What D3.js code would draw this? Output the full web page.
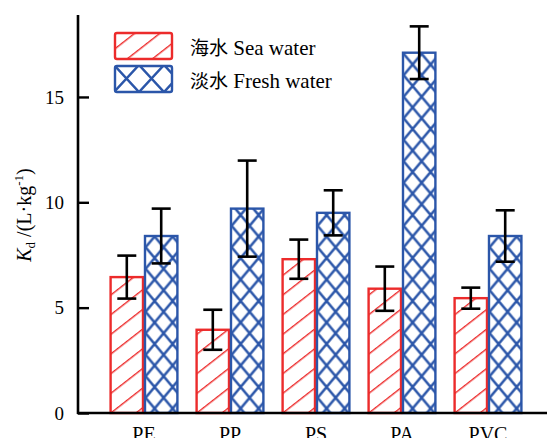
<!DOCTYPE html>
<html>
<head>
<meta charset="utf-8">
<script src="https://cdn.jsdelivr.net/npm/d3@7"></script>
<style>
body{margin:0;background:#fff;}
text{font-family:"Liberation Serif","Times New Roman",serif;fill:#000;}
</style>
</head>
<body>
<div id="chart"></div>
<script>
// data
var categories=["PE","PP","PS","PA","PVC"];
var seaValues=[6.45,3.95,7.3,5.9,5.45];
var seaErr=[1.02,0.95,0.93,1.05,0.5];
var freshValues=[8.4,9.7,9.5,17.1,8.4];
var freshErr=[1.3,2.28,1.07,1.25,1.22];
var yTicks=[0,5,10,15];
var seriesCn=["海水","淡水"];
var seriesEn=["Sea water","Fresh water"];

var W=547,H=438;
var red="#ec2b2b",blue="#2b56a9";

var svg=d3.select("#chart").append("svg").attr("width",W).attr("height",H);
var defs=svg.append("defs");

// hatch patterns
defs.append("pattern").attr("id","hatch").attr("patternUnits","userSpaceOnUse")
	.attr("width",15.5).attr("height",15.5).attr("patternTransform","rotate(52)")
	.append("line").attr("x1",0).attr("y1",-1).attr("x2",0).attr("y2",17)
	.attr("stroke",red).attr("stroke-width",2.8);
var cp=defs.append("pattern").attr("id","cross").attr("patternUnits","userSpaceOnUse")
	.attr("width",18).attr("height",21.5).attr("x",9);
cp.append("path").attr("d","M0,0L18,21.5M18,0L0,21.5").attr("stroke",blue).attr("stroke-width",2.5).attr("fill","none");
var cpl=defs.append("pattern").attr("id","crossLeg").attr("patternUnits","userSpaceOnUse")
	.attr("width",25).attr("height",27).attr("x",114).attr("y",65);
cpl.append("path").attr("d","M0,0L25,27M25,0L0,27").attr("stroke",blue).attr("stroke-width",2.5).attr("fill","none");

var x0=78,y0=413;
var y=d3.scaleLinear().domain([0,19]).range([y0,y0-19*21.07]);
var x=d3.scaleBand().domain(categories).range([101,531]).paddingInner(0.2).paddingOuter(0.1);
var xs=d3.scaleBand().domain(["sea","fresh"]).range([0,x.bandwidth()]);

// bars
var groups=svg.selectAll("g.grp").data(categories).enter().append("g")
	.attr("transform",function(d){return "translate("+x(d)+",0)";});
groups.append("rect")
	.attr("x",xs("sea")+1).attr("width",xs.bandwidth()-2)
	.attr("y",function(d,i){return y(seaValues[i]);})
	.attr("height",function(d,i){return y0-y(seaValues[i]);})
	.attr("fill","url(#hatch)").attr("stroke",red).attr("stroke-width",2.4);
groups.append("rect")
	.attr("x",xs("fresh")+1).attr("width",xs.bandwidth()-2)
	.attr("y",function(d,i){return y(freshValues[i]);})
	.attr("height",function(d,i){return y0-y(freshValues[i]);})
	.attr("fill","url(#cross)").attr("stroke",blue).attr("stroke-width",2.4);

// error bars
function errBars(key,vals,errs){
	var cx=xs(key)+xs.bandwidth()/2;
	var g=groups.append("g").attr("stroke","#000").attr("stroke-width",2.6);
	g.append("line").attr("x1",cx).attr("x2",cx)
		.attr("y1",function(d,i){return y(vals[i]+errs[i]);})
		.attr("y2",function(d,i){return y(vals[i]-errs[i]);});
	[1,-1].forEach(function(s){
		g.append("line").attr("x1",cx-9.5).attr("x2",cx+9.5)
			.attr("y1",function(d,i){return y(vals[i]+s*errs[i]);})
			.attr("y2",function(d,i){return y(vals[i]+s*errs[i]);});
	});
}
errBars("sea",seaValues,seaErr);
errBars("fresh",freshValues,freshErr);

// axes
var ya=svg.append("g").attr("transform","translate("+x0+",0)")
	.call(d3.axisRight(y).tickValues(yTicks).tickSize(11).tickFormat(d3.format("d")));
ya.select(".domain").remove();
ya.selectAll("line").attr("stroke","#000").attr("stroke-width",2.4);
ya.selectAll("text").attr("x",-14).attr("text-anchor","end").attr("font-size","19px")
	.attr("font-family","Liberation Serif");
svg.append("line").attr("x1",x0).attr("x2",x0).attr("y1",15).attr("y2",y0+1)
	.attr("stroke","#000").attr("stroke-width",2.6);
svg.append("line").attr("x1",x0-1).attr("x2",W).attr("y1",y0).attr("y2",y0)
	.attr("stroke","#000").attr("stroke-width",2.4);

svg.selectAll("text.cat").data(categories).enter().append("text")
	.attr("x",function(d){return x(d)+x.bandwidth()/2;}).attr("y",441)
	.attr("text-anchor","middle").attr("font-size","20px").text(function(d){return d;});

// y label
var yl=svg.append("text").attr("transform","translate(31,215) rotate(-90)")
	.attr("text-anchor","middle").attr("font-size","20px");
yl.append("tspan").attr("font-style","italic").text("K");
yl.append("tspan").attr("font-size","13px").attr("dy",4).text("d");
yl.append("tspan").attr("dy",-4).text(" /(L·kg");
yl.append("tspan").attr("font-size","13px").attr("dy",-8).text("-1");
yl.append("tspan").attr("dy",8).text(")");

// legend
var legFill=["url(#hatch)","url(#crossLeg)"],legCol=[red,blue],legY=[33,66];
seriesEn.forEach(function(n,i){
	svg.append("rect").attr("x",115).attr("y",legY[i]).attr("width",57).attr("height",26)
		.attr("rx",2).attr("fill",legFill[i]).attr("stroke",legCol[i]).attr("stroke-width",2.4);
	var t=svg.append("text").attr("x",190).attr("y",legY[i]+22);
	t.append("tspan").attr("font-size","19px").attr("font-family","Noto Sans CJK SC").text(seriesCn[i]);
	t.append("tspan").attr("font-size","21px").text(" "+n);
});
</script>
</body>
</html>
